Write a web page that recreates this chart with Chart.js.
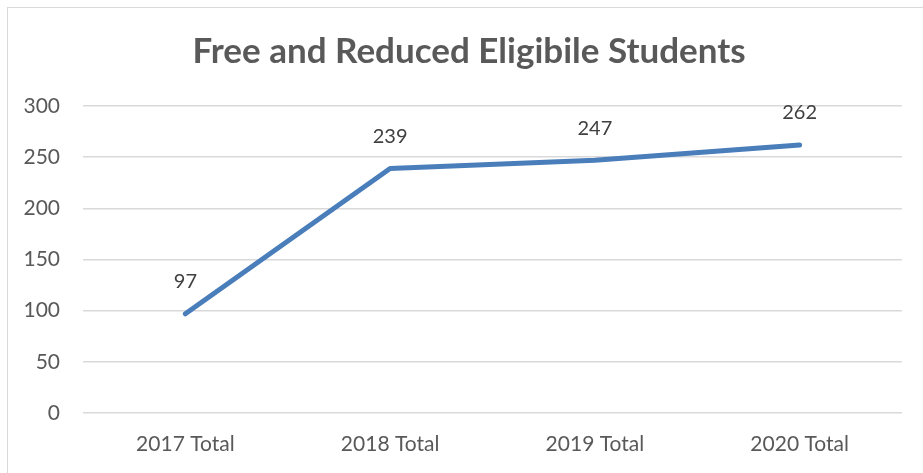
<!DOCTYPE html>
<html>
<head>
<meta charset="utf-8">
<script src="https://cdn.jsdelivr.net/npm/chart.js@4/dist/chart.umd.min.js"></script>
<style>
  html, body { margin: 0; padding: 0; background: #fff; overflow: hidden; }
  #wrap { position: relative; width: 923px; height: 473px; }
  #frame { position: absolute; left: 7px; top: 7px; width: 940px; height: 490px; border: 1px solid #d9d9d9; box-sizing: border-box; }
  canvas { position: absolute; left: 0; top: 0; }
</style>
</head>
<body>
<div id="wrap">
  <div id="frame"></div>
  <canvas id="c" width="923" height="473"></canvas>
</div>
<script>
const categories = ["2017 Total", "2018 Total", "2019 Total", "2020 Total"];
const students = [97, 239, 247, 262];
const titleText = "Free and Reduced Eligibile Students";

const dataLabels = {
  id: "dataLabels",
  afterDatasetsDraw(chart) {
    const ctx = chart.ctx;
    const meta = chart.getDatasetMeta(0);
    ctx.save();
    ctx.font = "20px Lato";
    ctx.fillStyle = "#404040";
    ctx.textAlign = "center";
    ctx.textBaseline = "middle";
    meta.data.forEach((pt, i) => {
      ctx.fillText(String(students[i]), pt.x, pt.y - 32);
    });
    ctx.restore();
  }
};

const chartTitle = {
  id: "chartTitle",
  afterDraw(chart) {
    const ctx = chart.ctx;
    ctx.save();
    ctx.font = "bold 35px Lato";
    ctx.fillStyle = "#595959";
    ctx.textAlign = "center";
    ctx.textBaseline = "middle";
    ctx.fillText(titleText, 469, 52);
    ctx.restore();
  }
};

new Chart(document.getElementById("c"), {
  type: "line",
  data: {
    labels: categories,
    datasets: [{
      data: students,
      borderColor: "#4a7ebb",
      borderWidth: 5,
      borderCapStyle: "round",
      borderJoinStyle: "round",
      pointRadius: 0,
      tension: 0,
      fill: false
    }]
  },
  options: {
    responsive: false,
    animation: false,
    layout: { padding: { left: 0, right: 21, top: 106, bottom: 0 } },
    plugins: {
      legend: { display: false },
      tooltip: { enabled: false },
      title: { display: false }
    },
    scales: {
      x: {
        offset: true,
        grid: { display: false, drawTicks: false },
        border: { display: false },
        ticks: { color: "#595959", font: { family: "Lato", size: 21 }, padding: 19, maxRotation: 0 },
        afterFit(s) { s.height = 60; }
      },
      y: {
        min: 0, max: 300,
        grid: { color: "#d9d9d9", lineWidth: 1.5, drawTicks: false },
        border: { display: false },
        ticks: { stepSize: 50, color: "#595959", font: { family: "Lato", size: 21 }, padding: 23 },
        afterFit(s) { s.width = 83; }
      }
    }
  },
  plugins: [dataLabels, chartTitle]
});
</script>
</body>
</html>
